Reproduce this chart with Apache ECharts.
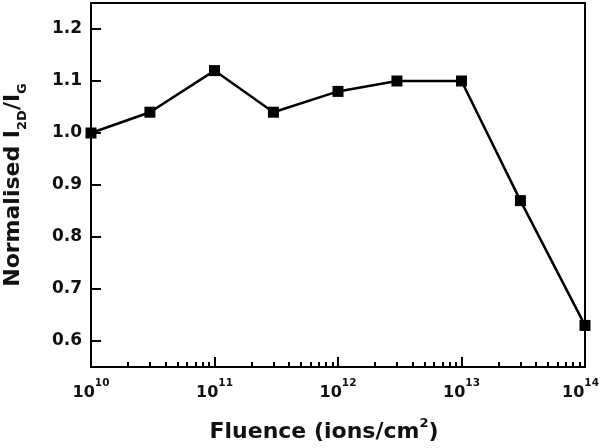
<!DOCTYPE html>
<html>
<head>
<meta charset="utf-8">
<script src="https://cdn.jsdelivr.net/npm/echarts@6/dist/echarts.min.js"></script>
<style>
  html, body { margin: 0; padding: 0; background: #fff; }
  #chart { width: 600px; height: 448px; }
</style>
</head>
<body>
<div id="chart"></div>
<script>
var fluence = [1e10, 3e10, 1e11, 3e11, 1e12, 3e12, 1e13, 3e13, 1e14];
var ratio = [1.00, 1.04, 1.12, 1.04, 1.08, 1.10, 1.10, 0.87, 0.63];
var yTicks = [0.6, 0.7, 0.8, 0.9, 1.0, 1.1, 1.2];
var xMajor = [1e10, 1e11, 1e12, 1e13, 1e14];

// minor ticks at 2..9 x each decade
var xMinor = [];
for (var d = 0; d < xMajor.length - 1; d++) {
    for (var m = 2; m <= 9; m++) {
        xMinor.push(m * xMajor[d]);
    }
}

var font = 'DejaVu Sans';
var chart = echarts.init(document.getElementById('chart'));

var points = [];
for (var i = 0; i < fluence.length; i++) {
    points.push([fluence[i], ratio[i]]);
}

var option = {
    animation: false,
    grid: {
        left: 91, right: 15, top: 3, bottom: 81,
        containLabel: false, outerBoundsMode: 'none',
        show: true, borderColor: '#000', borderWidth: 2
    },
    xAxis: [{
        type: 'log',
        logBase: 10,
        min: 1e10,
        max: 1e14,
        name: 'Fluence (ions/cm{sup|2})',
        nameLocation: 'middle',
        nameGap: 50,
        nameTextStyle: {
            color: '#111', fontFamily: font, fontWeight: 'bold', fontSize: 22,
            lineHeight: 30, padding: [0, 28, 0, 0],
            rich: {
                sup: { fontFamily: font, fontWeight: 'bold', fontSize: 13, lineHeight: 14, verticalAlign: 'top' }
            }
        },
        axisLine: { lineStyle: { color: '#000', width: 2 } },
        axisTick: { inside: true, length: 10, lineStyle: { color: '#000', width: 2 } },
        splitLine: { show: false },
        minorTick: { show: false },
        axisLabel: {
            margin: 11,
            formatter: function (v) {
                var e = Math.round(Math.log10(v));
                // last label is pushed a little left so it stays on the page
                if (v >= xMajor[xMajor.length - 1]) {
                    return '10{lastsup|' + e + '}';
                }
                return '10{sup|' + e + '}';
            },
            color: '#111', fontFamily: font, fontWeight: 'bold', fontSize: 16,
            lineHeight: 30,
            rich: {
                sup: { fontFamily: font, fontWeight: 'bold', fontSize: 10.5, lineHeight: 12, verticalAlign: 'top' },
                lastsup: { fontFamily: font, fontWeight: 'bold', fontSize: 10.5, lineHeight: 12, verticalAlign: 'top', padding: [0, 9, 0, 0] }
            }
        }
    }, {
        type: 'log',
        logBase: 10,
        min: 1e10,
        max: 1e14,
        position: 'bottom',
        axisLine: { show: false },
        axisLabel: { show: false },
        splitLine: { show: false },
        axisTick: {
            inside: true, length: 5,
            customValues: xMinor,
            lineStyle: { color: '#000', width: 2 }
        }
    }],
    yAxis: {
        type: 'value',
        min: 0.55,
        max: 1.25,
        name: 'Normalised I{sub|2D}/I{sub|G}',
        nameLocation: 'middle',
        nameRotate: 90,
        nameGap: 62,
        nameTextStyle: {
            color: '#111', fontFamily: font, fontWeight: 'bold', fontSize: 22,
            lineHeight: 32,
            rich: {
                sub: { fontFamily: font, fontWeight: 'bold', fontSize: 13, lineHeight: 14, verticalAlign: 'bottom' }
            }
        },
        axisLine: { show: true, lineStyle: { color: '#000', width: 2 } },
        axisTick: { inside: true, length: 10, customValues: yTicks, lineStyle: { color: '#000', width: 2 } },
        splitLine: { show: false },
        axisLabel: {
            customValues: yTicks,
            margin: 9,
            formatter: function (v) { return v.toFixed(1); },
            color: '#111', fontFamily: font, fontWeight: 'bold', fontSize: 17
        }
    },
    series: [{
        type: 'line',
        data: points,
        clip: false,
        symbol: 'rect',
        symbolSize: 11,
        lineStyle: { color: '#000', width: 2.5 },
        itemStyle: { color: '#000' }
    }]
};

chart.setOption(option);
</script>
</body>
</html>
